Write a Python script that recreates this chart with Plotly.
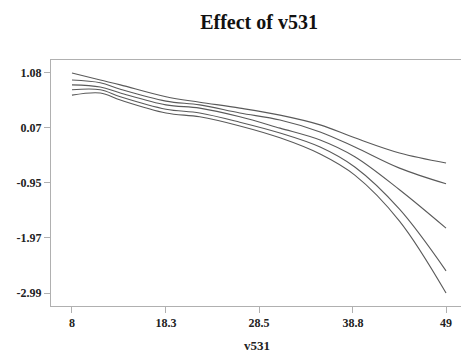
import plotly.graph_objects as go

x_vals = [8, 11.1, 13.3, 18.3, 22.0, 26.4, 30.8, 35.2, 39.0, 43.9, 49]
upper2 = [1.08, 0.95, 0.86, 0.64, 0.54, 0.43, 0.30, 0.12, -0.12, -0.40, -0.585]
upper1 = [0.95, 0.90, 0.78, 0.56, 0.49, 0.34, 0.21, -0.01, -0.29, -0.68, -0.97]
middle = [0.86, 0.82, 0.71, 0.49, 0.43, 0.27, 0.06, -0.16, -0.47, -1.08, -1.79]
lower1 = [0.77, 0.77, 0.64, 0.41, 0.34, 0.17, -0.03, -0.29, -0.66, -1.44, -2.58]
lower2 = [0.67, 0.71, 0.58, 0.34, 0.27, 0.10, -0.12, -0.42, -0.81, -1.66, -2.99]

x_ticks = [8, 18.3, 28.5, 38.8, 49]
y_ticks = [1.08, 0.07, -0.95, -1.97, -2.99]

font_family = "Liberation Serif"
fig = go.Figure()
for s in [upper2, upper1, middle, lower1, lower2]:
    fig.add_trace(go.Scatter(x=x_vals, y=s, mode="lines",
                             line=dict(color="#5a5a5a", width=1.1, shape="spline", smoothing=1.0),
                             showlegend=False, hoverinfo="skip"))

axis_common = dict(showline=True, linecolor="#b0b0b0", linewidth=1, mirror=True,
                   ticks="outside", ticklen=6, tickcolor="#b0b0b0", showgrid=False,
                   zeroline=False, automargin=False,
                   tickfont=dict(family=font_family, size=12, color="#222222", weight="bold"))

# the page body has an 8px margin, so the figure is sized to fit the 469x354 window
fig.update_layout(
    width=461, height=346,
    margin=dict(l=43, r=6, t=52, b=48),
    paper_bgcolor="white", plot_bgcolor="white",
    title=dict(text="Effect of v531", x=0.505, xref="paper", xanchor="center",
               y=1 - 14 / 346, yref="container", yanchor="middle",
               font=dict(family=font_family, size=20, color="#111111", weight="bold")),
    xaxis=dict(range=[5.7, 50.86], tickvals=x_ticks, ticktext=[str(v) for v in x_ticks],
               **axis_common),
    yaxis=dict(range=[-3.23, 1.32], tickvals=y_ticks, ticktext=[f"{v:.2f}" for v in y_ticks],
               **axis_common),
    annotations=[dict(text="v531", xref="paper", yref="paper", x=0.5, y=-39 / 246,
                      xanchor="center", yanchor="middle", showarrow=False,
                      font=dict(family=font_family, size=13, color="#222222", weight="bold"))],
)

fig.write_html("out.html")
